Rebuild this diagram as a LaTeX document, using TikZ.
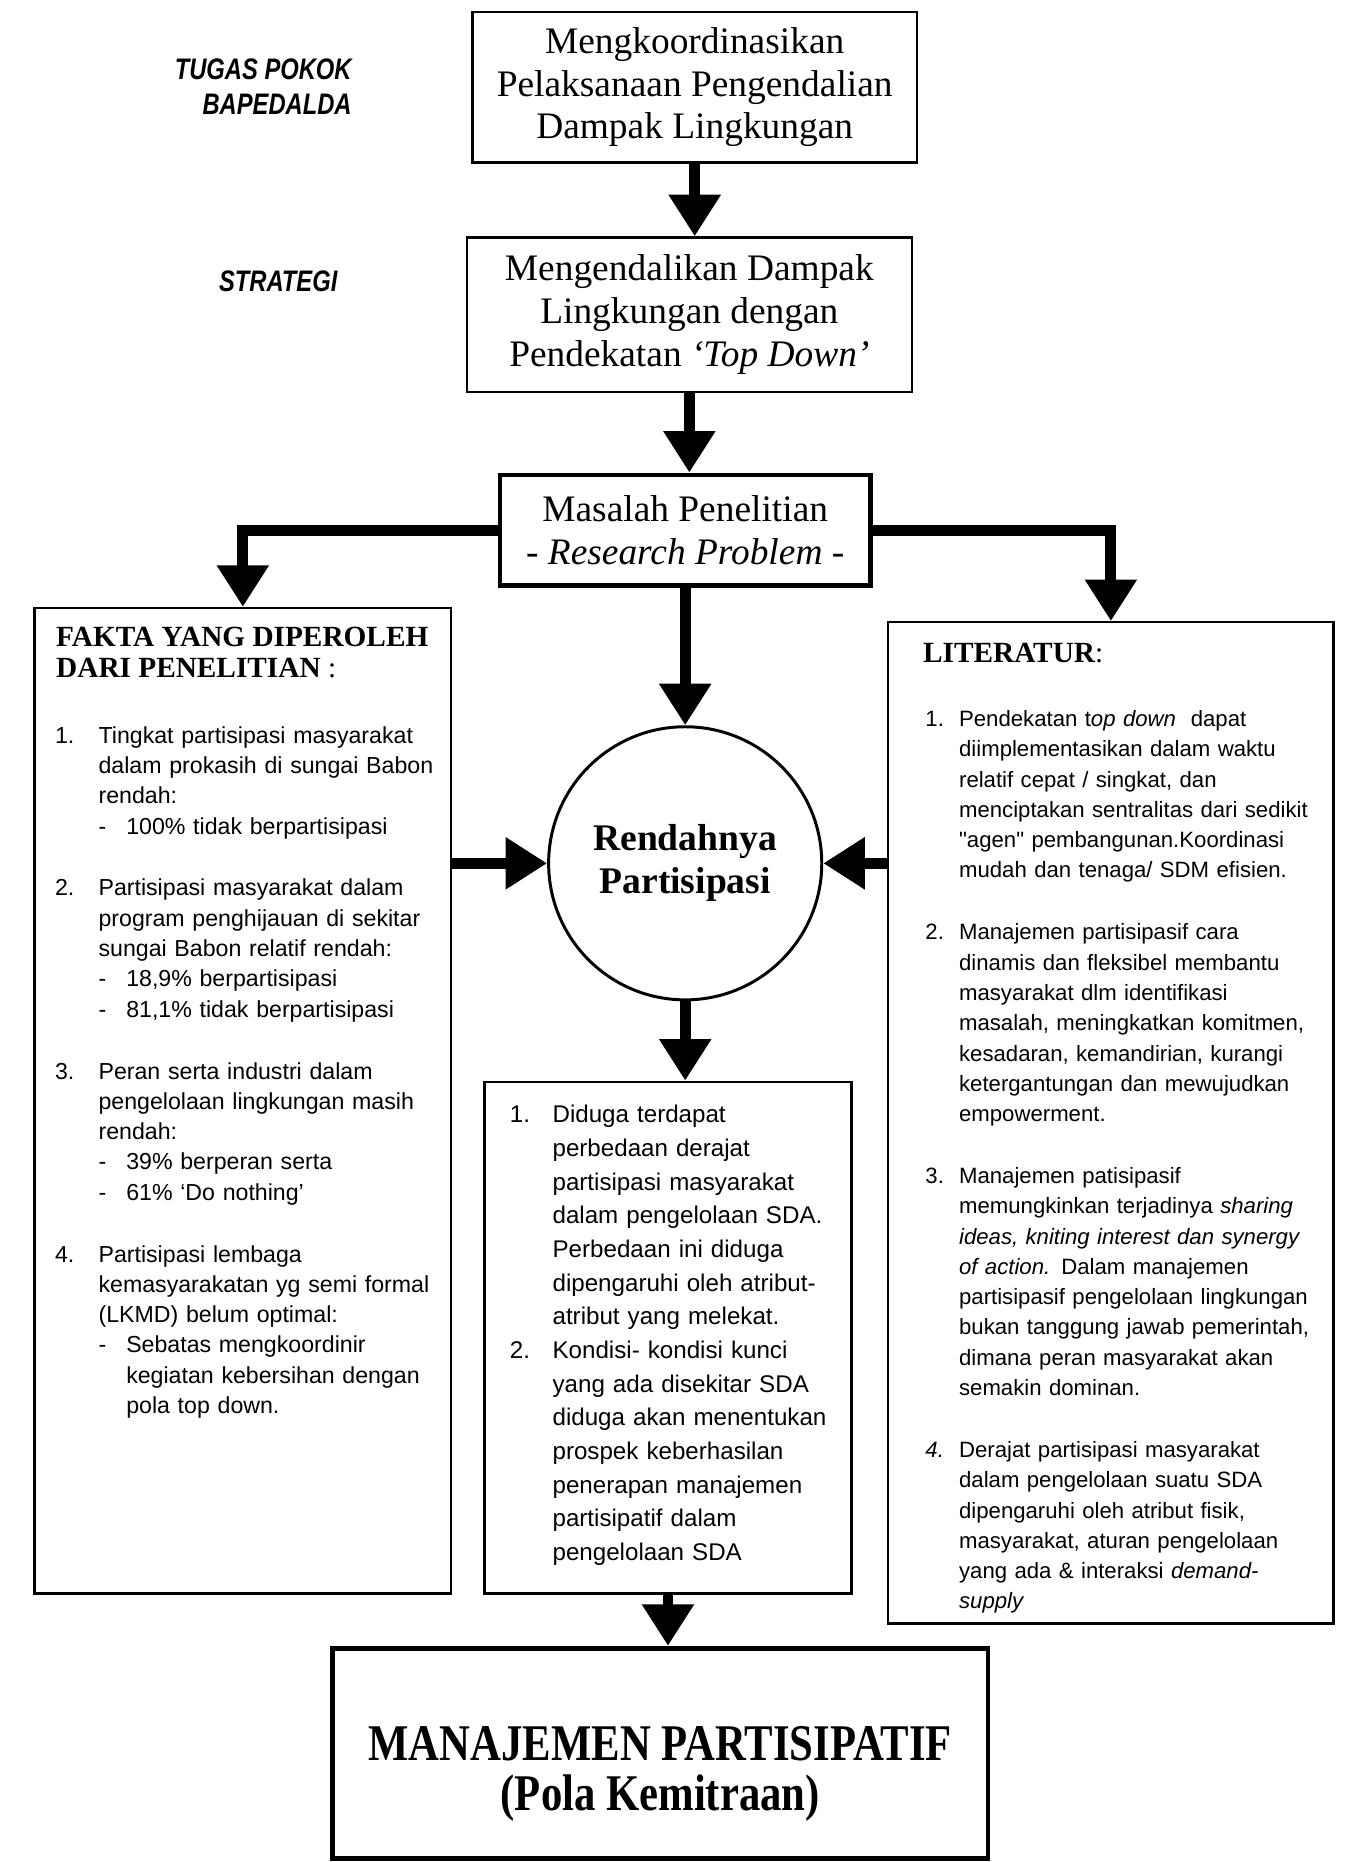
\documentclass[tikz,border=0pt]{standalone}
\usepackage{fontspec}
\setmainfont{Liberation Serif}
\setsansfont{Liberation Sans}
\newfontfamily\narrowsans{Liberation Sans}[FakeStretch=0.8]
\newfontfamily\narrowserif{Liberation Serif}[FakeStretch=0.83]
\usetikzlibrary{arrows.meta,positioning,calc,fit}

% list helpers for the three text boxes
\newcommand{\nitem}[2]{\par\leftskip=#2\noindent\llap{\makebox[#2][l]{#1}}}
\newcommand{\nsub}[1]{\par\leftskip=#1\noindent\llap{\makebox[14pt][l]{-}}}
\newcommand{\ngap}{\par\vspace{16pt}}

\tikzset{
  box/.style={draw, line width=1.2pt, inner sep=0pt},
  thickbox/.style={draw, line width=2.4pt, inner sep=0pt},
  serifbig/.style={font=\fontsize{18.9}{21.6}\selectfont, align=center},
  bigarrow/.style={line width=5.5pt, -{Triangle[width=25pt,length=21pt]}},
  listtext/.style={anchor=north west, inner sep=0pt, align=left},
  side/.style={font=\narrowsans\bfseries\itshape\fontsize{15}{18}\selectfont, align=right, anchor=east},
  heading/.style={anchor=north west, inner sep=0pt, align=left, font=\bfseries\fontsize{14.8}{15.6}\selectfont},
}

\begin{document}
\begin{tikzpicture}[x=0.6pt,y=-0.6pt]
\useasboundingbox (0,0) rectangle (1133,1568);

% labels on the left
\node[side] (tugas) at (302,73) {TUGAS POKOK\\BAPEDALDA};
\node[side] (strategi) at (290,237) {STRATEGI};

% main chain
\node[box, minimum width=224.4pt, minimum height=76.2pt, serifbig] (koord) at (585,73.5)
  {Mengkoordinasikan\\Pelaksanaan Pengendalian\\Dampak Lingkungan};
\node[box, minimum width=225pt, minimum height=78pt, serifbig] (strat) at (580.5,265)
  {Mengendalikan Dampak\\Lingkungan dengan\\Pendekatan \textit{‘Top Down’}};
\node[thickbox, minimum width=187.2pt, minimum height=55.8pt, serifbig] (masalah) at (577,446.5)
  {Masalah Penelitian\\\textit{- Research Problem -}};

\node[box, fit={(29,512) (380,1342)}] (fakta) {};
\node[box, fit={(748,524) (1123,1367)}] (lit) {};
\node[box, fit={(408,911) (717,1342)}] (duga) {};
\node[circle, draw, line width=1.5pt, minimum size=138pt, inner sep=0pt, align=center,
      font=\bfseries\fontsize{19}{21.6}\selectfont] (rendah) at (577,727) {Rendahnya\\Partisipasi};
\node[thickbox, fit={(280,1388) (832,1565)}] (kemitraan) {};
\node[font=\narrowserif\bfseries\fontsize{26}{25}\selectfont, align=center] (pola) at (556,1494)
  {MANAJEMEN PARTISIPATIF\\(Pola Kemitraan)};

% box texts
\node[heading] (faktajudul) at ($(fakta.north west)+(19,17)$) {FAKTA YANG DIPEROLEH\\DARI PENELITIAN {\normalfont :}};
\node[listtext, text width=200pt, font=\sffamily\fontsize{11.7}{15.3}\selectfont] (faktaisi) at ($(fakta.north west)+(18,89)$) {%
\nitem{1.}{22pt}Tingkat partisipasi masyarakat\\
dalam prokasih di sungai Babon\\
rendah:
\nsub{36pt}100\% tidak berpartisipasi
\ngap
\nitem{2.}{22pt}Partisipasi masyarakat dalam\\
program penghijauan di sekitar\\
sungai Babon relatif rendah:
\nsub{36pt}18,9\% berpartisipasi
\nsub{36pt}81,1\% tidak berpartisipasi
\ngap
\nitem{3.}{22pt}Peran serta industri dalam\\
pengelolaan lingkungan masih\\
rendah:
\nsub{36pt}39\% berperan serta
\nsub{36pt}61\% ‘Do nothing’
\ngap
\nitem{4.}{22pt}Partisipasi lembaga\\
kemasyarakatan yg semi formal\\
(LKMD) belum optimal:
\nsub{36pt}Sebatas mengkoordinir\\
kegiatan kebersihan dengan\\
pola top down.\par};

\node[heading] (litjudul) at ($(lit.north west)+(30,18)$) {LITERATUR{\normalfont :}};
\node[listtext, text width=210pt, font=\sffamily\fontsize{11.2}{15.3}\selectfont] (litisi) at ($(lit.north west)+(32,63)$) {%
\nitem{1.}{17pt}Pendekatan t\textit{op down}\ \ dapat\\
diimplementasikan dalam waktu\\
relatif cepat / singkat, dan\\
menciptakan sentralitas dari sedikit\\
\textquotedbl agen\textquotedbl\ pembangunan.Koordinasi\\
mudah dan tenaga/ SDM efisien.
\ngap
\nitem{2.}{17pt}Manajemen partisipasif cara\\
dinamis dan fleksibel membantu\\
masyarakat dlm identifikasi\\
masalah, meningkatkan komitmen,\\
kesadaran, kemandirian, kurangi\\
ketergantungan dan mewujudkan\\
empowerment.
\ngap
\nitem{3.}{17pt}Manajemen patisipasif\\
memungkinkan terjadinya \textit{sharing}\\
\textit{ideas, kniting interest dan synergy}\\
\textit{of action.} Dalam manajemen\\
partisipasif pengelolaan lingkungan\\
bukan tanggung jawab pemerintah,\\
dimana peran masyarakat akan\\
semakin dominan.
\ngap
\nitem{\textit{4.}}{17pt}Derajat partisipasi masyarakat\\
dalam pengelolaan suatu SDA\\
dipengaruhi oleh atribut fisik,\\
masyarakat, aturan pengelolaan\\
yang ada \& interaksi \textit{demand-}\\
\textit{supply}\par};

\node[listtext, text width=180pt, font=\sffamily\fontsize{12.2}{17}\selectfont] (dugaisi) at ($(duga.north west)+(22,7)$) {%
\nitem{1.}{21.6pt}Diduga terdapat\\
perbedaan derajat\\
partisipasi masyarakat\\
dalam pengelolaan SDA.\\
Perbedaan ini diduga\\
dipengaruhi oleh atribut-\\
atribut yang melekat.
\nitem{2.}{21.6pt}Kondisi- kondisi kunci\\
yang ada disekitar SDA\\
diduga akan menentukan\\
prospek keberhasilan\\
penerapan manajemen\\
partisipatif dalam\\
pengelolaan SDA\par};

% arrows
\draw[bigarrow] (koord.south) -- (koord.south |- strat.north);
\draw[bigarrow] (strat.south) -- (strat.south |- masalah.north);
\draw[bigarrow] (masalah.west) -| (fakta.north);
\draw[bigarrow] (masalah.east) -| (lit.north);
\draw[bigarrow] (masalah) -- (rendah);
\draw[bigarrow] (fakta.east |- rendah) -- (rendah.west);
\draw[bigarrow] (lit.west |- rendah) -- (rendah.east);
\draw[bigarrow] (rendah.south) -- (rendah.south |- duga.north);
\draw[bigarrow] (duga.south) -- (duga.south |- kemitraan.north);
\end{tikzpicture}
\end{document}
